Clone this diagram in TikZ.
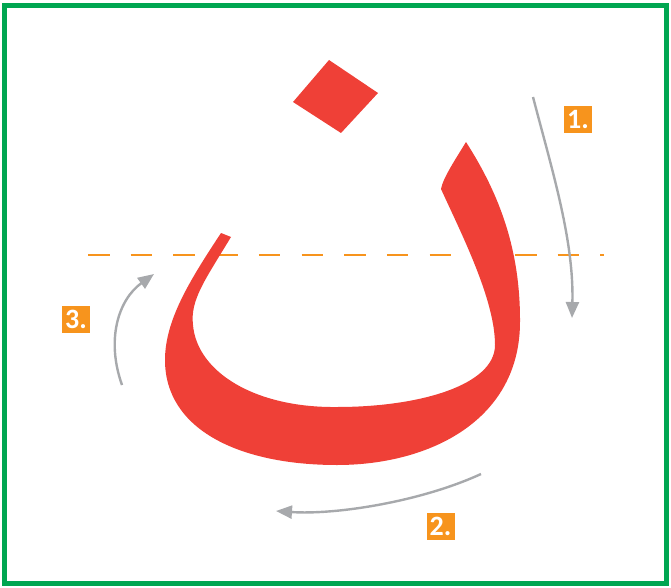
\documentclass[tikz,border=0pt]{standalone}
\usepackage{fontspec}
\setsansfont{Carlito}
\usepackage{tikz}
\usetikzlibrary{positioning, arrows.meta}
\definecolor{frameGreen}{HTML}{00A651}
\definecolor{nunRed}{HTML}{EF4037}
\definecolor{guideOrange}{HTML}{F7941D}
\definecolor{strokeGray}{HTML}{A7A9AC}

\begin{document}
\begin{tikzpicture}[x=1pt, y=-1pt,stepnum/.style={fill=guideOrange, text=white, font=\sffamily\bfseries\fontsize{28}{28}\selectfont, minimum width=28pt, minimum height=27pt, inner sep=0pt},stroke/.style={draw=strokeGray, line width=2.4pt, -{Triangle[length=16pt, width=13pt]}}]
\useasboundingbox (0,0) rectangle (671,588);
\draw[frameGreen, line width=4.5pt] (4.5,5.5) rectangle (666.5,583.5);
\draw[guideOrange, line width=2.5pt, dash pattern=on 21.5pt off 21.2pt] (88,255) -- (604,255);
% letter body and dot
\fill[nunRed] (466,142) .. controls (500,195) and (520,250) .. (520,320) .. controls (521,420) and (430,465) .. (337,465) .. controls (240,465) and (165,430) .. (165,360) .. controls (165,320) and (190,280) .. (221,233) -- (231,237) .. controls (205,280) and (190,300) .. (193,325) .. controls (197,372) and (255,408) .. (337,407) .. controls (420,407) and (495,385) .. (495,345) .. controls (495,300) and (462,235) .. (441,189) .. controls (443,178) and (455,160) .. (466,142) -- cycle;
\fill[nunRed] (329,60) -- (378,93) -- (341,133) -- (293,102) -- cycle;
% stroke order
\node[stepnum] (s1) at (578,120) {1.};
\node[stepnum] (s2) at (440.5,526.5) {2.};
\node[stepnum] (s3) at (76,319) {3.};
\coordinate (a1s) at (533,97); \coordinate (a1e) at (572,318);
\coordinate (a2s) at (481,474); \coordinate (a2e) at (276,511);
\coordinate (a3s) at (122,385); \coordinate (a3e) at (154,274);
\draw[stroke] (a1s) .. controls (552,170) and (574,240) .. (a1e);
\draw[stroke] (a2s) .. controls (420,502) and (335,515) .. (a2e);
\draw[stroke] (a3s) .. controls (106,340) and (118,300) .. (a3e);
\end{tikzpicture}
\end{document}
